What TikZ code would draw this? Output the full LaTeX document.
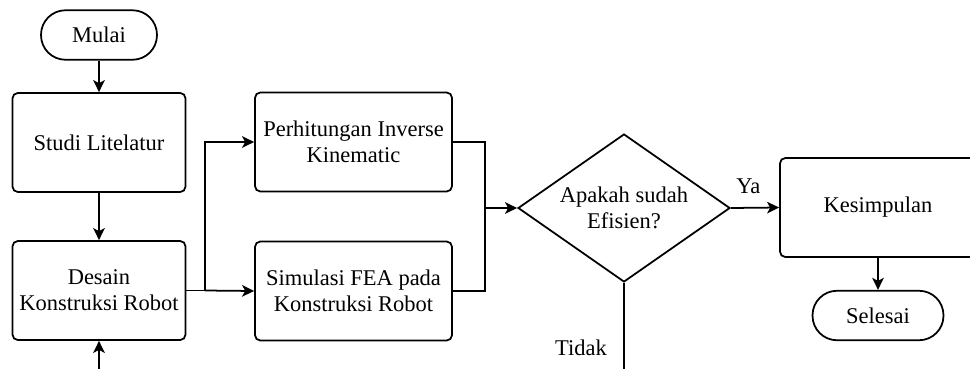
\documentclass[tikz,border=0pt]{standalone}
\usepackage{fontspec}
\setmainfont{Liberation Serif}
\usetikzlibrary{arrows.meta,shapes.geometric}

\tikzset{
  proses/.style={draw, line width=1pt, rounded corners=3pt, align=center,
    minimum width=3.46cm, minimum height=1.98cm, inner sep=2pt},
  terminal/.style={draw, line width=1pt, rounded corners=0.49cm, align=center,
    minimum height=0.99cm, inner sep=2pt},
  keputusan/.style={draw, line width=1pt, diamond, aspect=1.43, align=center,
    minimum width=4.24cm, minimum height=2.96cm, inner sep=0pt},
  panah/.style={line width=1pt, -{Stealth[length=2.4mm, width=2.3mm, inset=0.6mm]}},
  garis/.style={line width=1pt}
}

\begin{document}
\begin{tikzpicture}[x=0.02cm, y=-0.02cm, font=\fontsize{12.8}{14.8}\selectfont]
    \useasboundingbox (0,0) rectangle (970,369);

    % Kolom kiri
    \node[terminal, minimum width=2.32cm] (mulai) at (99,35) {Mulai};
    \node[proses] (studi) at (99,142.5) {Studi Litelatur};
    \node[proses] (desain) at (99,290.5) {Desain\\Konstruksi Robot};

    % Dua proses paralel
    \node[proses, minimum width=3.94cm] (hitung) at (353.5,142) {Perhitungan Inverse\\Kinematic};
    \node[proses, minimum width=3.94cm] (fea) at (353.5,291) {Simulasi FEA pada\\Konstruksi Robot};

    % Keputusan
    \node[keputusan] (cek) at (624,208) {Apakah sudah\\Efisien?};

    % Kolom kanan
    \node[proses, minimum width=3.92cm] (simpul) at (878,207.5) {Kesimpulan};
    \node[terminal, minimum width=2.62cm] (selesai) at (878,315.5) {Selesai};

    \coordinate (cabang) at (205,290.5);
    \coordinate (gabung) at (485,208);
    \coordinate (bawahkiri) at (99,369);
    \coordinate (bawahcek) at (cek.south |- bawahkiri);

    % Alur
    \draw[panah] (mulai) -- (studi);
    \draw[panah] (studi) -- (desain);
    \draw[panah] (bawahkiri) -- (desain);
    \draw[garis] (desain.east) -- (cabang);
    \draw[panah] (cabang) |- (hitung.west);
    \draw[panah] (cabang) -- (fea.west);
    \draw[garis] (hitung.east) -| (gabung) |- (fea.east);
    \draw[panah] (gabung) -- (cek.west);
    \draw[panah] (cek.east) -- node[above, pos=0.36, yshift=4pt] {Ya} (simpul.west);
    \draw[garis] (cek.south) -- node[left, pos=0.75, xshift=-6pt] {Tidak} (bawahcek);
    \draw[panah] (simpul) -- (selesai);

\end{tikzpicture}
\end{document}
